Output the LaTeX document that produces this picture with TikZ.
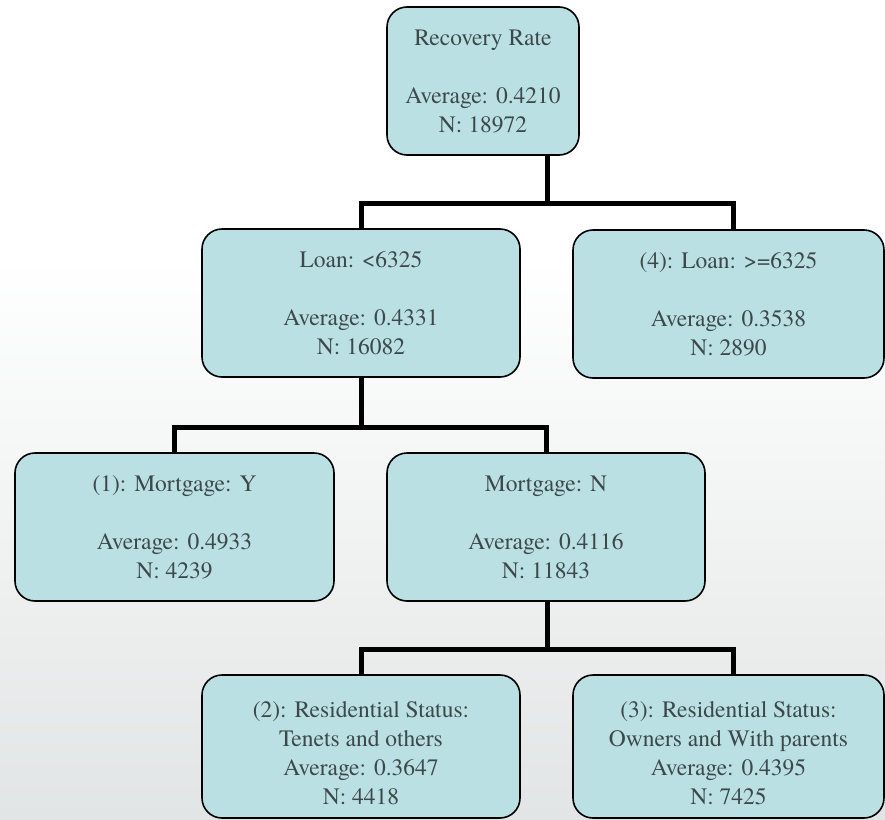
\documentclass[tikz,border=0pt]{standalone}
\usepackage{fontspec}
\setmainfont{TeX Gyre Termes}
\usetikzlibrary{positioning}
\definecolor{boxfill}{RGB}{186,224,227}
\definecolor{boxtext}{RGB}{60,72,74}
\definecolor{bggray}{RGB}{226,229,229}

\begin{document}
\begin{tikzpicture}[
  x=1pt, y=-1pt,
  font=\fontsize{23.5}{29}\selectfont,
  leaf/.style={draw=black, line width=1.6pt, rounded corners=20pt, fill=boxfill, text=boxtext,
               align=center, inner sep=0pt, minimum height=148pt},
  branch/.style={draw=black, line width=5pt, line join=miter}
]
\useasboundingbox (0,0) rectangle (885,819);
\fill[white] (0,0) rectangle (885,260);
\shade[top color=white, bottom color=bggray] (0,259) rectangle (885,819);
\node[leaf, minimum width=192pt] (root) at (483,81) {Recovery Rate\\[29pt]Average: 0.4210\\N: 18972};
\node[leaf, minimum width=318pt] (loanlow) at (361,303) {Loan: <6325\\[29pt]Average: 0.4331\\N: 16082};
\node[leaf, minimum width=311pt] (loanhigh) at (728.5,304) {(4): Loan: >=6325\\[29pt]Average: 0.3538\\N: 2890};
\node[leaf, minimum width=319pt] (mortyes) at (174.5,527) {(1): Mortgage: Y\\[29pt]Average: 0.4933\\N: 4239};
\node[leaf, minimum width=318pt] (mortno) at (546,527) {Mortgage: N\\[29pt]Average: 0.4116\\N: 11843};
\node[leaf, minimum width=318pt, minimum height=143pt] (resten) at (361,746.5) {\rule{0pt}{29pt}(2): Residential Status:\\Tenets and others\\Average: 0.3647\\N: 4418};
\node[leaf, minimum width=311pt, minimum height=143pt] (resown) at (728.5,746.5) {\rule{0pt}{29pt}(3): Residential Status:\\Owners and With parents\\Average: 0.4395\\N: 7425};
% splits
\coordinate (j1) at (547,203);
\coordinate (j2) at (361,427);
\coordinate (j3) at (547,649);
\draw[branch] (root.south -| j1) -- (j1);
\draw[branch] (loanlow.north) |- (j1) -| ([xshift=4.5pt]loanhigh.north);
\draw[branch] (loanlow.south) -- (j2);
\draw[branch] (mortyes.north) |- (j2) -| (mortno.north);
\draw[branch] (mortno.south -| j3) -- (j3);
\draw[branch] (resten.north) |- (j3) -| ([xshift=4.5pt]resown.north);
\end{tikzpicture}
\end{document}
